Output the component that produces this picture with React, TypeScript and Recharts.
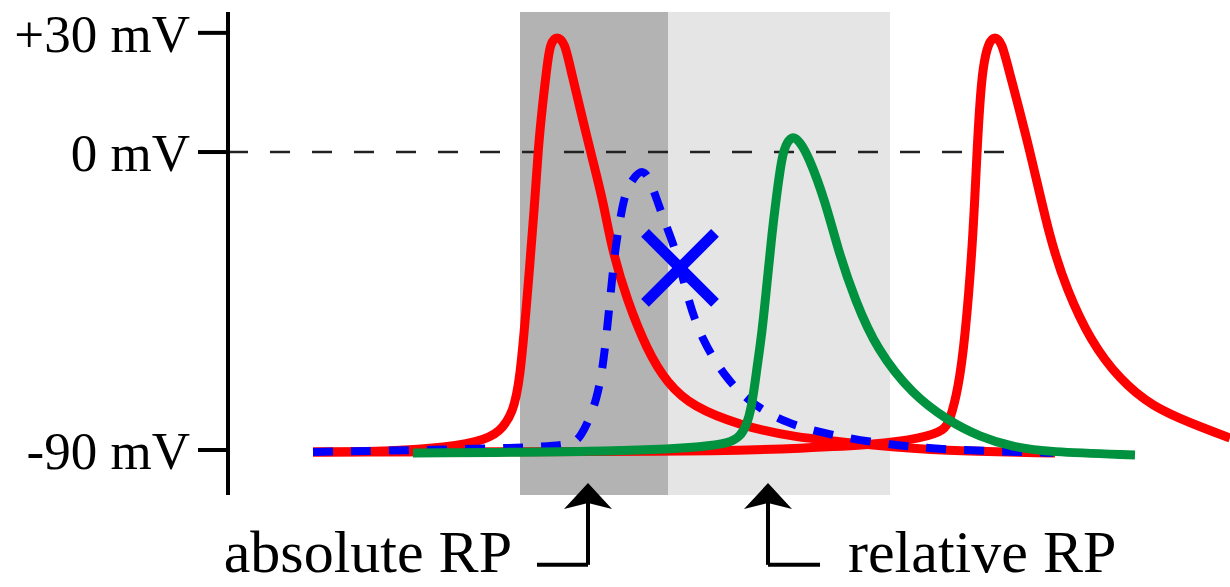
import {
  ComposedChart, Line, ReferenceArea, ReferenceDot, ReferenceLine, Scatter, XAxis, YAxis,
} from "recharts";

// time (arbitrary units) vs membrane potential (mV)
const firstAP: [number, number][] = [
  [8.5, -90.6], [15, -90.5], [20.2, -89.7], [25.2, -87.6], [27.2, -84.6], [28.5, -78.8],
  [29.2, -68.9], [29.9, -44.7], [30.7, -14.5], [31.0, 0.6], [31.5, 15.7], [31.9, 25.7],
  [32.2, 32.9], [32.9, 35.2], [33.7, 32.9], [34.2, 25.7], [36.2, 0.6], [37.5, -14.5],
  [38.4, -29.6], [39.9, -44.7], [41.9, -59.8], [43.9, -69.8], [46.5, -77.0], [51.2, -82.5],
  [56.2, -86.1], [64.5, -88.5], [71.2, -90.3], [82.7, -90.9],
];

const secondAP: [number, number][] = [
  [8.5, -90.6], [47.2, -90.6], [57.9, -89.4], [64.5, -88.5], [69.5, -86.4], [71.7, -84.0],
  [72.2, -80.9], [73.0, -71.9], [73.7, -56.8], [74.5, -26.6], [74.9, 0.6], [75.2, 15.7],
  [75.5, 25.7], [76.0, 32.9], [76.7, 35.2], [77.4, 32.9], [78.0, 25.7], [80.2, 0.6],
  [82.2, -26.6], [83.9, -41.7], [86.2, -56.8], [89.2, -68.9], [92.5, -77.0], [96.2, -81.8],
  [100.2, -86.4],
];

const failedAP: [number, number][] = [
  [8.5, -90.6], [31.2, -89.4], [34.2, -88.2], [35.2, -87.0], [37.0, -74.9], [37.7, -59.8],
  [38.2, -44.7], [38.7, -29.6], [39.2, -20.5], [39.7, -12.4], [40.5, -7.9], [41.5, -5.0],
  [42.2, -8.5], [42.9, -14.5], [43.7, -21.4], [44.9, -30.5], [46.0, -44.7], [47.4, -56.8],
  [49.7, -68.0], [52.2, -75.8], [55.9, -82.1], [59.9, -85.2], [64.2, -87.6], [68.5, -89.1],
  [72.5, -90.0], [82.5, -90.9],
];

const relativeAP: [number, number][] = [
  [18.5, -90.9], [37.2, -90.6], [48.5, -89.1], [51.5, -87.0], [52.4, -77.0], [52.9, -64.9],
  [53.4, -54.7], [53.9, -39.6], [54.4, -24.5], [54.8, -14.5], [55.4, -0.9], [55.9, 3.0],
  [56.5, 5.0], [57.2, 3.0], [58.0, -0.9], [59.7, -14.5], [61.0, -29.6], [62.7, -44.7],
  [64.9, -59.8], [68.5, -73.4], [71.9, -80.9], [75.2, -86.1], [78.5, -89.1], [81.9, -90.6],
  [90.7, -91.5],
];

const blockedMark = [{ t: 45.2, v: -35.0 }];

const tickValues = [-90, 0, 36];
const tickLabels = ["-90 mV", "0 mV", "+30 mV"];

const absoluteRP = [29.2, 44.0];
const relativeRP = [44.0, 66.2];

const toRows = (pts: [number, number][]) => pts.map(([t, v]) => ({ t, v }));

const SERIF = "'Liberation Serif', 'Times New Roman', serif";
const GREEN = "#00923f";

const CrossShape = (props: any) => {
  const { cx, cy } = props;
  const h = 35;
  return (
    <g stroke="#0000ff" strokeWidth={11}>
      <line x1={cx - h} y1={cy - h} x2={cx + h} y2={cy + h} />
      <line x1={cx + h} y1={cy - h} x2={cx - h} y2={cy + h} />
    </g>
  );
};

const ArrowHead = (props: any) => {
  const { cx, cy } = props;
  return <path d={`M${cx},${cy} L${cx + 24},${cy + 26} L${cx},${cy + 20} L${cx - 24},${cy + 26} Z`} fill="#000" />;
};

const textShape = (label: string, anchor: "start" | "end") => (props: any) => (
  <text x={props.cx} y={props.cy} textAnchor={anchor} fontFamily={SERIF} fontSize={60} fill="#000">
    {label}
  </text>
);

export default function App() {
  return (
    <div style={{ position: "absolute", left: 0, top: 0, width: 1230, height: 587, background: "#fff" }}>
      <ComposedChart width={1230} height={587} margin={{ top: 12, right: 0, bottom: 92, left: 0 }}>
        <XAxis type="number" dataKey="t" domain={[0, 100.2]} hide allowDataOverflow />
        <YAxis
          type="number"
          domain={[-103.6, 42.3]}
          allowDataOverflow
          ticks={tickValues}
          tickFormatter={(v) => tickLabels[tickValues.indexOf(v)]}
          width={228}
          tickSize={30}
          tickMargin={8}
          axisLine={{ stroke: "#000", strokeWidth: 4 }}
          tickLine={{ stroke: "#000", strokeWidth: 4 }}
          tick={{ fill: "#000", fontSize: 53, fontFamily: SERIF }}
        />
        <ReferenceArea x1={absoluteRP[0]} x2={absoluteRP[1]} fill="#b3b3b3" fillOpacity={1} stroke="none" />
        <ReferenceArea x1={relativeRP[0]} x2={relativeRP[1]} fill="#e5e5e5" fillOpacity={1} stroke="none" />
        <ReferenceLine
          segment={[{ x: 0, y: 0 }, { x: 77.7, y: 0 }]}
          stroke="#222"
          strokeWidth={2.5}
          strokeDasharray="20 22"
        />
        <Line data={toRows(secondAP)} dataKey="v" type="basis" stroke="#ff0000" strokeWidth={9} dot={false} activeDot={false} isAnimationActive={false} />
        <Line data={toRows(firstAP)} dataKey="v" type="basis" stroke="#ff0000" strokeWidth={9} dot={false} activeDot={false} isAnimationActive={false} />
        <Line data={toRows(failedAP)} dataKey="v" type="basis" stroke="#0000ff" strokeWidth={8} strokeDasharray="20 18" dot={false} activeDot={false} isAnimationActive={false} />
        <Line data={toRows(relativeAP)} dataKey="v" type="basis" stroke={GREEN} strokeWidth={9} dot={false} activeDot={false} isAnimationActive={false} />
        <Scatter data={blockedMark} dataKey="v" shape={CrossShape} isAnimationActive={false} />

        {/* annotation arrows under the shaded refractory periods */}
        <ReferenceLine segment={[{ x: 36.0, y: -102 }, { x: 36.0, y: -124.7 }]} stroke="#000" strokeWidth={4} ifOverflow="visible" />
        <ReferenceLine segment={[{ x: 30.9, y: -124.7 }, { x: 36.0, y: -124.7 }]} stroke="#000" strokeWidth={4} ifOverflow="visible" />
        <ReferenceDot x={36.0} y={-100.0} r={1} ifOverflow="visible" shape={ArrowHead} />
        <ReferenceLine segment={[{ x: 54.0, y: -102 }, { x: 54.0, y: -124.7 }]} stroke="#000" strokeWidth={4} ifOverflow="visible" />
        <ReferenceLine segment={[{ x: 54.0, y: -124.7 }, { x: 59.2, y: -124.7 }]} stroke="#000" strokeWidth={4} ifOverflow="visible" />
        <ReferenceDot x={54.0} y={-100.0} r={1} ifOverflow="visible" shape={ArrowHead} />
        <ReferenceDot x={28.4} y={-127.0} r={1} ifOverflow="visible" shape={textShape("absolute RP", "end")} />
        <ReferenceDot x={62.0} y={-127.0} r={1} ifOverflow="visible" shape={textShape("relative RP", "start")} />
      </ComposedChart>
    </div>
  );
}
